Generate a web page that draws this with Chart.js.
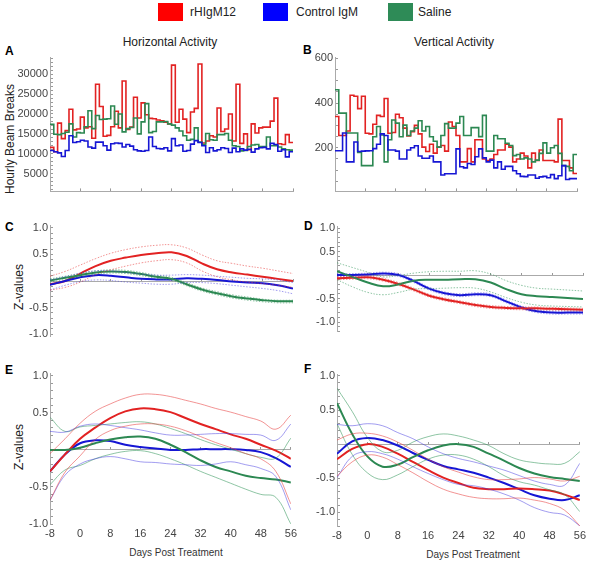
<!DOCTYPE html>
<html>
<head>
<meta charset="utf-8">
<script src="https://cdn.jsdelivr.net/npm/chart.js@4.4.0/dist/chart.umd.min.js"></script>
<style>
  body { margin: 0; background: #fff; font-family: "Liberation Sans", Arial, sans-serif; }
  #wrap { position: relative; width: 590px; height: 563px; overflow: hidden; }
  canvas { position: absolute; }
  .t { position: absolute; white-space: nowrap; color: #222; transform: translate(-50%, -50%); }
  .lbl { font-size: 12px; }
  .small { font-size: 10px; color: #333; }
  .rot { transform: translate(-50%, -50%) rotate(-90deg); }
  .letter { position: absolute; font-weight: bold; font-size: 12px; transform: translateY(-50%); }
  .sw { position: absolute; width: 25px; height: 18px; top: 3px; }
  .leg { position: absolute; top: 12px; font-size: 12px; transform: translateY(-50%); color: #222; }
</style>
</head>
<body>
<div id="wrap">
  <div class="sw" style="left:158px;background:#ff0000"></div><div class="leg" style="left:190px">rHIgM12</div>
  <div class="sw" style="left:263px;background:#0000ff"></div><div class="leg" style="left:296px">Control IgM</div>
  <div class="sw" style="left:388px;background:#2e8b57"></div><div class="leg" style="left:418px">Saline</div>

  <div class="t lbl" style="left:170px;top:42px">Horizontal Activity</div>
  <div class="t lbl" style="left:454px;top:42px">Vertical Activity</div>

  <div class="letter" style="left:5px;top:51px">A</div>
  <div class="letter" style="left:303px;top:50px">B</div>
  <div class="letter" style="left:5px;top:227px">C</div>
  <div class="letter" style="left:304px;top:226px">D</div>
  <div class="letter" style="left:5px;top:370px">E</div>
  <div class="letter" style="left:304px;top:369px">F</div>

  <div class="t lbl rot" style="left:10px;top:139px">Hourly Beam Breaks</div>
  <div class="t lbl rot" style="left:19px;top:287px">Z-values</div>
  <div class="t lbl rot" style="left:19px;top:447px">Z-values</div>

  <div class="t small" style="left:176px;top:552px">Days Post Treatment</div>
  <div class="t small" style="left:473px;top:554px">Days Post Treatment</div>
</div>
<script>
// daily bins, day -8 .. 55
const firstDay = -8;

const hRed = [11600, 10500, 17700, 13800, 15800, 21200, 16000, 16200, 19200, 16500,
  16800, 13900, 27500, 21900, 14400, 14600, 16800, 20700, 16500, 28300,
  16100, 16700, 24200, 19000, 22800, 19800, 18900, 18800, 18500, 18300,
  17900, 17500, 32300, 17900, 21200, 18700, 15300, 20500, 21400, 32600,
  12700, 13200, 14500, 14200, 21500, 15600, 16200, 20000, 13200, 27500,
  12600, 15000, 11000, 17500, 15200, 16500, 16700, 16700, 18200, 24000,
  12500, 12300, 14800, 12800];
const hBlue = [10800, 10500, 10200, 9300, 10800, 14500, 12800, 13000, 13400, 13200,
  11700, 11400, 12900, 12900, 12000, 10900, 12500, 12700, 12600, 11700,
  12300, 11900, 11000, 10700, 10600, 10800, 14200, 11800, 11300, 11200,
  11500, 10700, 13800, 12000, 12200, 10600, 10800, 12400, 13300, 12800,
  12000, 10300, 11500, 10700, 11000, 11500, 11300, 10300, 11400, 10500,
  11200, 10900, 11100, 10400, 11200, 11500, 11600, 11200, 12600, 12300,
  10600, 11000, 9200, 10500];
const hGreen = [17400, 14900, 14800, 15100, 15400, 17500, 14200, 15300, 15200, 16800,
  20800, 16300, 19600, 18600, 18700, 18800, 22000, 17400, 20000, 15500,
  16300, 16600, 19000, 15000, 18000, 22600, 15300, 15600, 18000, 18000,
  18100, 17500, 17200, 16500, 15700, 14500, 13400, 13600, 16500, 12900,
  12300, 15100, 13500, 13400, 14800, 14800, 15100, 13400, 12000, 11800,
  10700, 10800, 11800, 12200, 12300, 11800, 11800, 14200, 12000, 12000,
  11700, 11200, 11000, 10900];

const vRed = [340, 255, 255, 275, 435, 430, 375, 430, 265, 262,
  305, 345, 340, 420, 265, 268, 350, 334, 288, 253,
  272, 300, 262, 203, 183, 216, 176, 203, 210, 185,
  315, 295, 255, 137, 137, 196, 137, 236, 236, 150,
  143, 150, 170, 190, 190, 216, 203, 137, 150, 176,
  163, 110, 176, 143, 190, 143, 143, 143, 137, 328,
  143, 143, 110, 85];
const vBlue = [187, 187, 266, 137, 137, 226, 183, 185, 186, 187,
  196, 216, 262, 255, 190, 190, 185, 150, 150, 190,
  200, 209, 163, 153, 153, 163, 137, 137, 78, 84,
  84, 84, 195, 115, 110, 130, 125, 160, 195, 155,
  137, 145, 110, 137, 104, 117, 117, 97, 84, 72,
  71, 78, 78, 64, 70, 72, 66, 80, 62, 75,
  120, 58, 62, 62];
const vGreen = [459, 355, 355, 266, 266, 266, 179, 120, 120, 120,
  249, 295, 257, 137, 236, 324, 310, 249, 301, 255,
  275, 288, 321, 275, 295, 249, 229, 203, 255, 308,
  288, 288, 310, 340, 255, 255, 290, 290, 250, 345,
  185, 185, 255, 240, 240, 220, 210, 165, 170, 150,
  155, 150, 137, 145, 175, 222, 176, 200, 210, 175,
  120, 117, 97, 170];

// smoothed z-scores, sampled every 4 days
const zDays = [-8, -4, 0, 4, 8, 12, 16, 20, 24, 28, 32, 36, 40, 44, 48, 52, 56];

const cRed    = [-0.06, 0.0, 0.14, 0.28, 0.38, 0.44, 0.49, 0.52, 0.54, 0.47, 0.33, 0.22, 0.16, 0.12, 0.08, 0.04, 0.0];
const cRedHi  = [0.09, 0.18, 0.30, 0.42, 0.52, 0.59, 0.64, 0.67, 0.68, 0.62, 0.49, 0.38, 0.33, 0.28, 0.24, 0.19, 0.14];
const cRedLo  = [-0.17, -0.12, -0.02, 0.12, 0.21, 0.28, 0.34, 0.38, 0.40, 0.34, 0.19, 0.08, 0.02, -0.02, -0.05, -0.08, -0.12];
const cBlue   = [-0.07, 0.0, 0.07, 0.11, 0.10, 0.07, 0.04, 0.03, 0.03, 0.05, 0.04, 0.02, -0.01, -0.03, -0.04, -0.08, -0.14];
const cBlueHi = [0.02, 0.08, 0.15, 0.19, 0.19, 0.16, 0.13, 0.11, 0.11, 0.12, 0.11, 0.09, 0.07, 0.05, 0.04, 0.02, -0.03];
const cBlueLo = [-0.17, -0.08, -0.01, 0.02, 0.01, -0.02, -0.04, -0.06, -0.06, -0.03, -0.03, -0.05, -0.08, -0.11, -0.14, -0.18, -0.24];
const cGreen   = [0.01, 0.06, 0.11, 0.16, 0.18, 0.17, 0.13, 0.08, 0.04, -0.06, -0.16, -0.23, -0.29, -0.33, -0.36, -0.38, -0.38];
const cGreenHi = [0.04, 0.09, 0.14, 0.19, 0.21, 0.20, 0.16, 0.11, 0.07, -0.03, -0.13, -0.20, -0.26, -0.30, -0.34, -0.36, -0.36];
const cGreenLo = [-0.02, 0.03, 0.08, 0.13, 0.15, 0.14, 0.10, 0.05, 0.01, -0.09, -0.19, -0.26, -0.32, -0.36, -0.39, -0.41, -0.41];

const dRed    = [-0.07, -0.06, -0.05, -0.10, -0.19, -0.31, -0.44, -0.52, -0.58, -0.64, -0.68, -0.70, -0.71, -0.71, -0.72, -0.73, -0.74];
const dRedHi  = [-0.04, -0.03, -0.02, -0.07, -0.16, -0.28, -0.41, -0.49, -0.55, -0.61, -0.65, -0.67, -0.68, -0.68, -0.69, -0.70, -0.71];
const dRedLo  = [-0.10, -0.09, -0.08, -0.13, -0.22, -0.34, -0.47, -0.55, -0.61, -0.67, -0.71, -0.73, -0.74, -0.74, -0.75, -0.76, -0.77];
const dBlue   = [0.0, 0.0, 0.01, 0.03, 0.0, -0.13, -0.29, -0.39, -0.43, -0.41, -0.43, -0.56, -0.69, -0.77, -0.80, -0.80, -0.80];
const dBlueHi = [0.03, 0.03, 0.04, 0.06, 0.03, -0.10, -0.26, -0.36, -0.40, -0.38, -0.40, -0.53, -0.66, -0.74, -0.77, -0.77, -0.77];
const dBlueLo = [-0.03, -0.03, -0.02, 0.0, -0.03, -0.16, -0.32, -0.42, -0.46, -0.44, -0.46, -0.59, -0.72, -0.80, -0.83, -0.83, -0.83];
const dGreen   = [0.08, -0.04, -0.16, -0.24, -0.20, -0.12, -0.10, -0.10, -0.09, -0.09, -0.16, -0.30, -0.41, -0.45, -0.47, -0.49, -0.51];
const dGreenHi = [0.26, 0.16, 0.06, -0.04, -0.01, 0.04, 0.07, 0.08, 0.08, 0.09, 0.02, -0.12, -0.22, -0.28, -0.30, -0.32, -0.34];
const dGreenLo = [-0.10, -0.25, -0.37, -0.42, -0.37, -0.30, -0.29, -0.28, -0.27, -0.28, -0.36, -0.48, -0.58, -0.64, -0.66, -0.67, -0.68];

const eRed    = [-0.29, -0.06, 0.15, 0.30, 0.43, 0.52, 0.56, 0.55, 0.51, 0.43, 0.35, 0.28, 0.21, 0.15, 0.07, -0.01, -0.12];
const eRedHi  = [-0.05, 0.15, 0.36, 0.52, 0.62, 0.70, 0.75, 0.75, 0.72, 0.67, 0.62, 0.56, 0.51, 0.45, 0.39, 0.28, 0.47];
const eRedLo  = [-0.68, -0.30, -0.08, 0.14, 0.26, 0.32, 0.35, 0.35, 0.32, 0.26, 0.18, 0.10, 0.03, -0.05, -0.12, -0.29, -0.73];
const eBlue   = [-0.29, -0.06, 0.09, 0.13, 0.12, 0.07, 0.04, 0.02, 0.0, 0.0, 0.01, 0.01, 0.01, 0.0, -0.03, -0.11, -0.23];
const eBlueHi = [0.25, 0.24, 0.32, 0.35, 0.33, 0.30, 0.27, 0.23, 0.20, 0.20, 0.21, 0.22, 0.22, 0.21, 0.20, 0.13, 0.35];
const eBlueLo = [-0.68, -0.34, -0.19, -0.12, -0.09, -0.12, -0.16, -0.17, -0.19, -0.20, -0.21, -0.19, -0.16, -0.20, -0.25, -0.36, -0.81];
const eGreen   = [0.0, 0.0, 0.03, 0.09, 0.14, 0.17, 0.18, 0.15, 0.07, -0.03, -0.14, -0.23, -0.29, -0.35, -0.38, -0.40, -0.44];
const eGreenHi = [0.44, 0.25, 0.31, 0.33, 0.35, 0.37, 0.38, 0.35, 0.29, 0.22, 0.14, 0.07, 0.01, -0.05, -0.10, -0.11, 0.16];
const eGreenLo = [-0.47, -0.27, -0.21, -0.12, -0.06, -0.02, -0.01, -0.05, -0.12, -0.20, -0.29, -0.37, -0.45, -0.53, -0.60, -0.64, -1.0];

const fRed    = [-0.22, -0.07, 0.0, -0.04, -0.14, -0.26, -0.38, -0.49, -0.57, -0.64, -0.66, -0.66, -0.65, -0.66, -0.68, -0.74, -0.82];
const fRedHi  = [0.06, 0.15, 0.16, 0.12, 0.03, -0.09, -0.22, -0.33, -0.41, -0.48, -0.52, -0.52, -0.51, -0.49, -0.51, -0.54, -0.47];
const fRedLo  = [-0.47, -0.26, -0.16, -0.19, -0.30, -0.42, -0.55, -0.66, -0.73, -0.78, -0.80, -0.80, -0.79, -0.82, -0.87, -0.97, -1.2];
const fBlue   = [-0.14, 0.04, 0.09, 0.06, -0.02, -0.13, -0.23, -0.32, -0.37, -0.42, -0.49, -0.57, -0.66, -0.75, -0.80, -0.82, -0.75];
const fBlueHi = [0.29, 0.27, 0.30, 0.27, 0.17, 0.08, -0.04, -0.14, -0.21, -0.26, -0.32, -0.38, -0.46, -0.54, -0.59, -0.60, -0.28];
const fBlueLo = [-0.49, -0.18, -0.11, -0.14, -0.22, -0.33, -0.43, -0.52, -0.59, -0.61, -0.66, -0.73, -0.82, -0.93, -1.0, -1.04, -1.2];
const fGreen   = [0.60, 0.15, -0.18, -0.33, -0.30, -0.19, -0.09, -0.02, 0.0, -0.04, -0.14, -0.24, -0.35, -0.43, -0.48, -0.51, -0.54];
const fGreenHi = [0.82, 0.48, 0.10, -0.11, -0.09, 0.03, 0.11, 0.15, 0.12, 0.06, -0.02, -0.14, -0.23, -0.27, -0.29, -0.28, -0.11];
const fGreenLo = [0.30, -0.15, -0.42, -0.52, -0.45, -0.33, -0.22, -0.16, -0.16, -0.22, -0.33, -0.46, -0.55, -0.60, -0.67, -0.74, -0.99];

const RED = 'rgb(226,34,34)', BLUE = 'rgb(22,22,212)', GREEN = 'rgb(44,136,82)';
const RED_L = 'rgba(232,60,60,0.55)', BLUE_L = 'rgba(70,60,225,0.5)', GREEN_L = 'rgba(50,150,90,0.55)';
const FONT = '"Liberation Sans", Arial, sans-serif';
const PAD = 6, YW = 48;

function stepData(vals) {
  const pts = vals.map((v, i) => ({ x: firstDay + i, y: v }));
  pts.push({ x: firstDay + vals.length, y: vals[vals.length - 1] }); // close last bin
  return pts;
}
function curve(vals) {
  return vals.map((v, i) => ({ x: zDays[i], y: v }));
}

function stepSet(vals, color) {
  return { data: stepData(vals), borderColor: color, borderWidth: 1.6, stepped: 'before', pointRadius: 0 };
}
function meanSet(vals, color) {
  return { data: curve(vals), borderColor: color, borderWidth: 2, tension: 0.4, pointRadius: 0 };
}
function bandSet(vals, color, dotted) {
  return { data: curve(vals), borderColor: color, borderWidth: 1, borderDash: dotted ? [1.5, 1.5] : [],
    tension: 0.4, pointRadius: 0 };
}

function yAxis(min, max, minor, major, fmt) {
  return {
    min: min, max: max,
    afterFit: s => { s.width = YW; },
    afterBuildTicks: s => {
      const out = [];
      for (let k = Math.ceil(min / minor - 1e-9); k * minor <= max + 1e-9; k++) {
        out.push({ value: Math.round(k * minor * 1000) / 1000 });
      }
      s.ticks = out;
    },
    ticks: {
      autoSkip: false, padding: 5, color: '#444', font: { size: 11, family: FONT },
      callback: v => {
        const r = v / major;
        return (Math.abs(r - Math.round(r)) < 1e-6 && v !== 0) ? fmt(v) : '';
      }
    },
    grid: { drawOnChartArea: false, tickLength: -3, tickColor: '#999' },
    border: { color: '#aaa' }
  };
}

function panel(box, yScale, xMode, datasets) {
  const bottomH = xMode === 'labels' ? 22 : 0;
  const cv = document.createElement('canvas');
  cv.width = (box.r - box.l) + YW + PAD;
  cv.height = (box.b - box.t) + PAD + bottomH;
  cv.style.left = (box.l - YW) + 'px';
  cv.style.top = (box.t - PAD) + 'px';
  document.getElementById('wrap').appendChild(cv);

  const tickLine = { drawOnChartArea: false, tickLength: -3, tickColor: '#999' };
  const scales = { y: yScale };
  if (xMode === 'bottom') {
    scales.x = { type: 'linear', min: -8, max: 56, ticks: { display: false, stepSize: 8 },
      grid: tickLine, border: { color: '#aaa' }, afterFit: s => { s.height = 0; } };
  } else if (xMode === 'zero') {
    scales.x = { type: 'linear', min: -8, max: 56, position: { y: 0 }, ticks: { display: false, stepSize: 8 },
      grid: tickLine, border: { color: '#aaa' } };
  } else {
    scales.x = { type: 'linear', min: -8, max: 56,
      ticks: { stepSize: 8, padding: 3, color: '#444', font: { size: 11, family: FONT }, maxRotation: 0 },
      grid: { display: false, drawTicks: false }, border: { display: false },
      afterFit: s => { s.height = bottomH; } };
    scales.x0 = { type: 'linear', axis: 'x', min: -8, max: 56, position: { y: 0 },
      ticks: { display: false, stepSize: 8 }, grid: tickLine, border: { color: '#aaa' } };
  }

  return new Chart(cv, {
    type: 'line',
    data: { datasets: datasets },
    options: {
      responsive: false, animation: false, devicePixelRatio: 1,
      layout: { padding: { left: 0, top: PAD, right: PAD, bottom: 0 }, autoPadding: false },
      plugins: { legend: { display: false }, tooltip: { enabled: false } },
      elements: { point: { radius: 0 } },
      scales: scales
    }
  });
}

const zFmt = v => v.toFixed(1);

// A - horizontal activity
panel({ l: 50, r: 293, t: 52, b: 203 },
  yAxis(500, 34200, 1000, 5000, v => String(v)), 'bottom',
  [stepSet(hBlue, BLUE), stepSet(hGreen, GREEN), stepSet(hRed, RED)]);

// B - vertical activity
panel({ l: 335, r: 577, t: 52, b: 203 },
  yAxis(5, 603, 50, 200, v => String(v)), 'bottom',
  [stepSet(vBlue, BLUE), stepSet(vGreen, GREEN), stepSet(vRed, RED)]);

// C
panel({ l: 50, r: 293, t: 220, b: 348 },
  yAxis(-1.04, 1.04, 0.1, 0.5, zFmt), 'zero',
  [bandSet(cRedHi, RED_L, true), bandSet(cRedLo, RED_L, true),
   bandSet(cBlueHi, BLUE_L, true), bandSet(cBlueLo, BLUE_L, true),
   bandSet(cGreenHi, GREEN_L, true), bandSet(cGreenLo, GREEN_L, true),
   meanSet(cGreen, GREEN), meanSet(cBlue, BLUE), meanSet(cRed, RED)]);

// D
panel({ l: 337, r: 583, t: 221, b: 343 },
  yAxis(-1.2, 1.03, 0.1, 0.5, zFmt), 'zero',
  [bandSet(dRedHi, RED_L, true), bandSet(dRedLo, RED_L, true),
   bandSet(dBlueHi, BLUE_L, true), bandSet(dBlueLo, BLUE_L, true),
   bandSet(dGreenHi, GREEN_L, true), bandSet(dGreenLo, GREEN_L, true),
   meanSet(dGreen, GREEN), meanSet(dRed, RED), meanSet(dBlue, BLUE)]);

// E
panel({ l: 50, r: 294, t: 368, b: 524 },
  yAxis(-1.0, 1.03, 0.1, 0.5, zFmt), 'labels',
  [bandSet(eRedHi, RED_L), bandSet(eRedLo, RED_L),
   bandSet(eBlueHi, BLUE_L), bandSet(eBlueLo, BLUE_L),
   bandSet(eGreenHi, GREEN_L), bandSet(eGreenLo, GREEN_L),
   meanSet(eGreen, GREEN), meanSet(eRed, RED), meanSet(eBlue, BLUE)]);

// F
panel({ l: 337, r: 583, t: 369, b: 526 },
  yAxis(-1.2, 1.02, 0.1, 0.5, zFmt), 'labels',
  [bandSet(fRedHi, RED_L), bandSet(fRedLo, RED_L),
   bandSet(fBlueHi, BLUE_L), bandSet(fBlueLo, BLUE_L),
   bandSet(fGreenHi, GREEN_L), bandSet(fGreenLo, GREEN_L),
   meanSet(fGreen, GREEN), meanSet(fRed, RED), meanSet(fBlue, BLUE)]);
</script>
</body>
</html>
